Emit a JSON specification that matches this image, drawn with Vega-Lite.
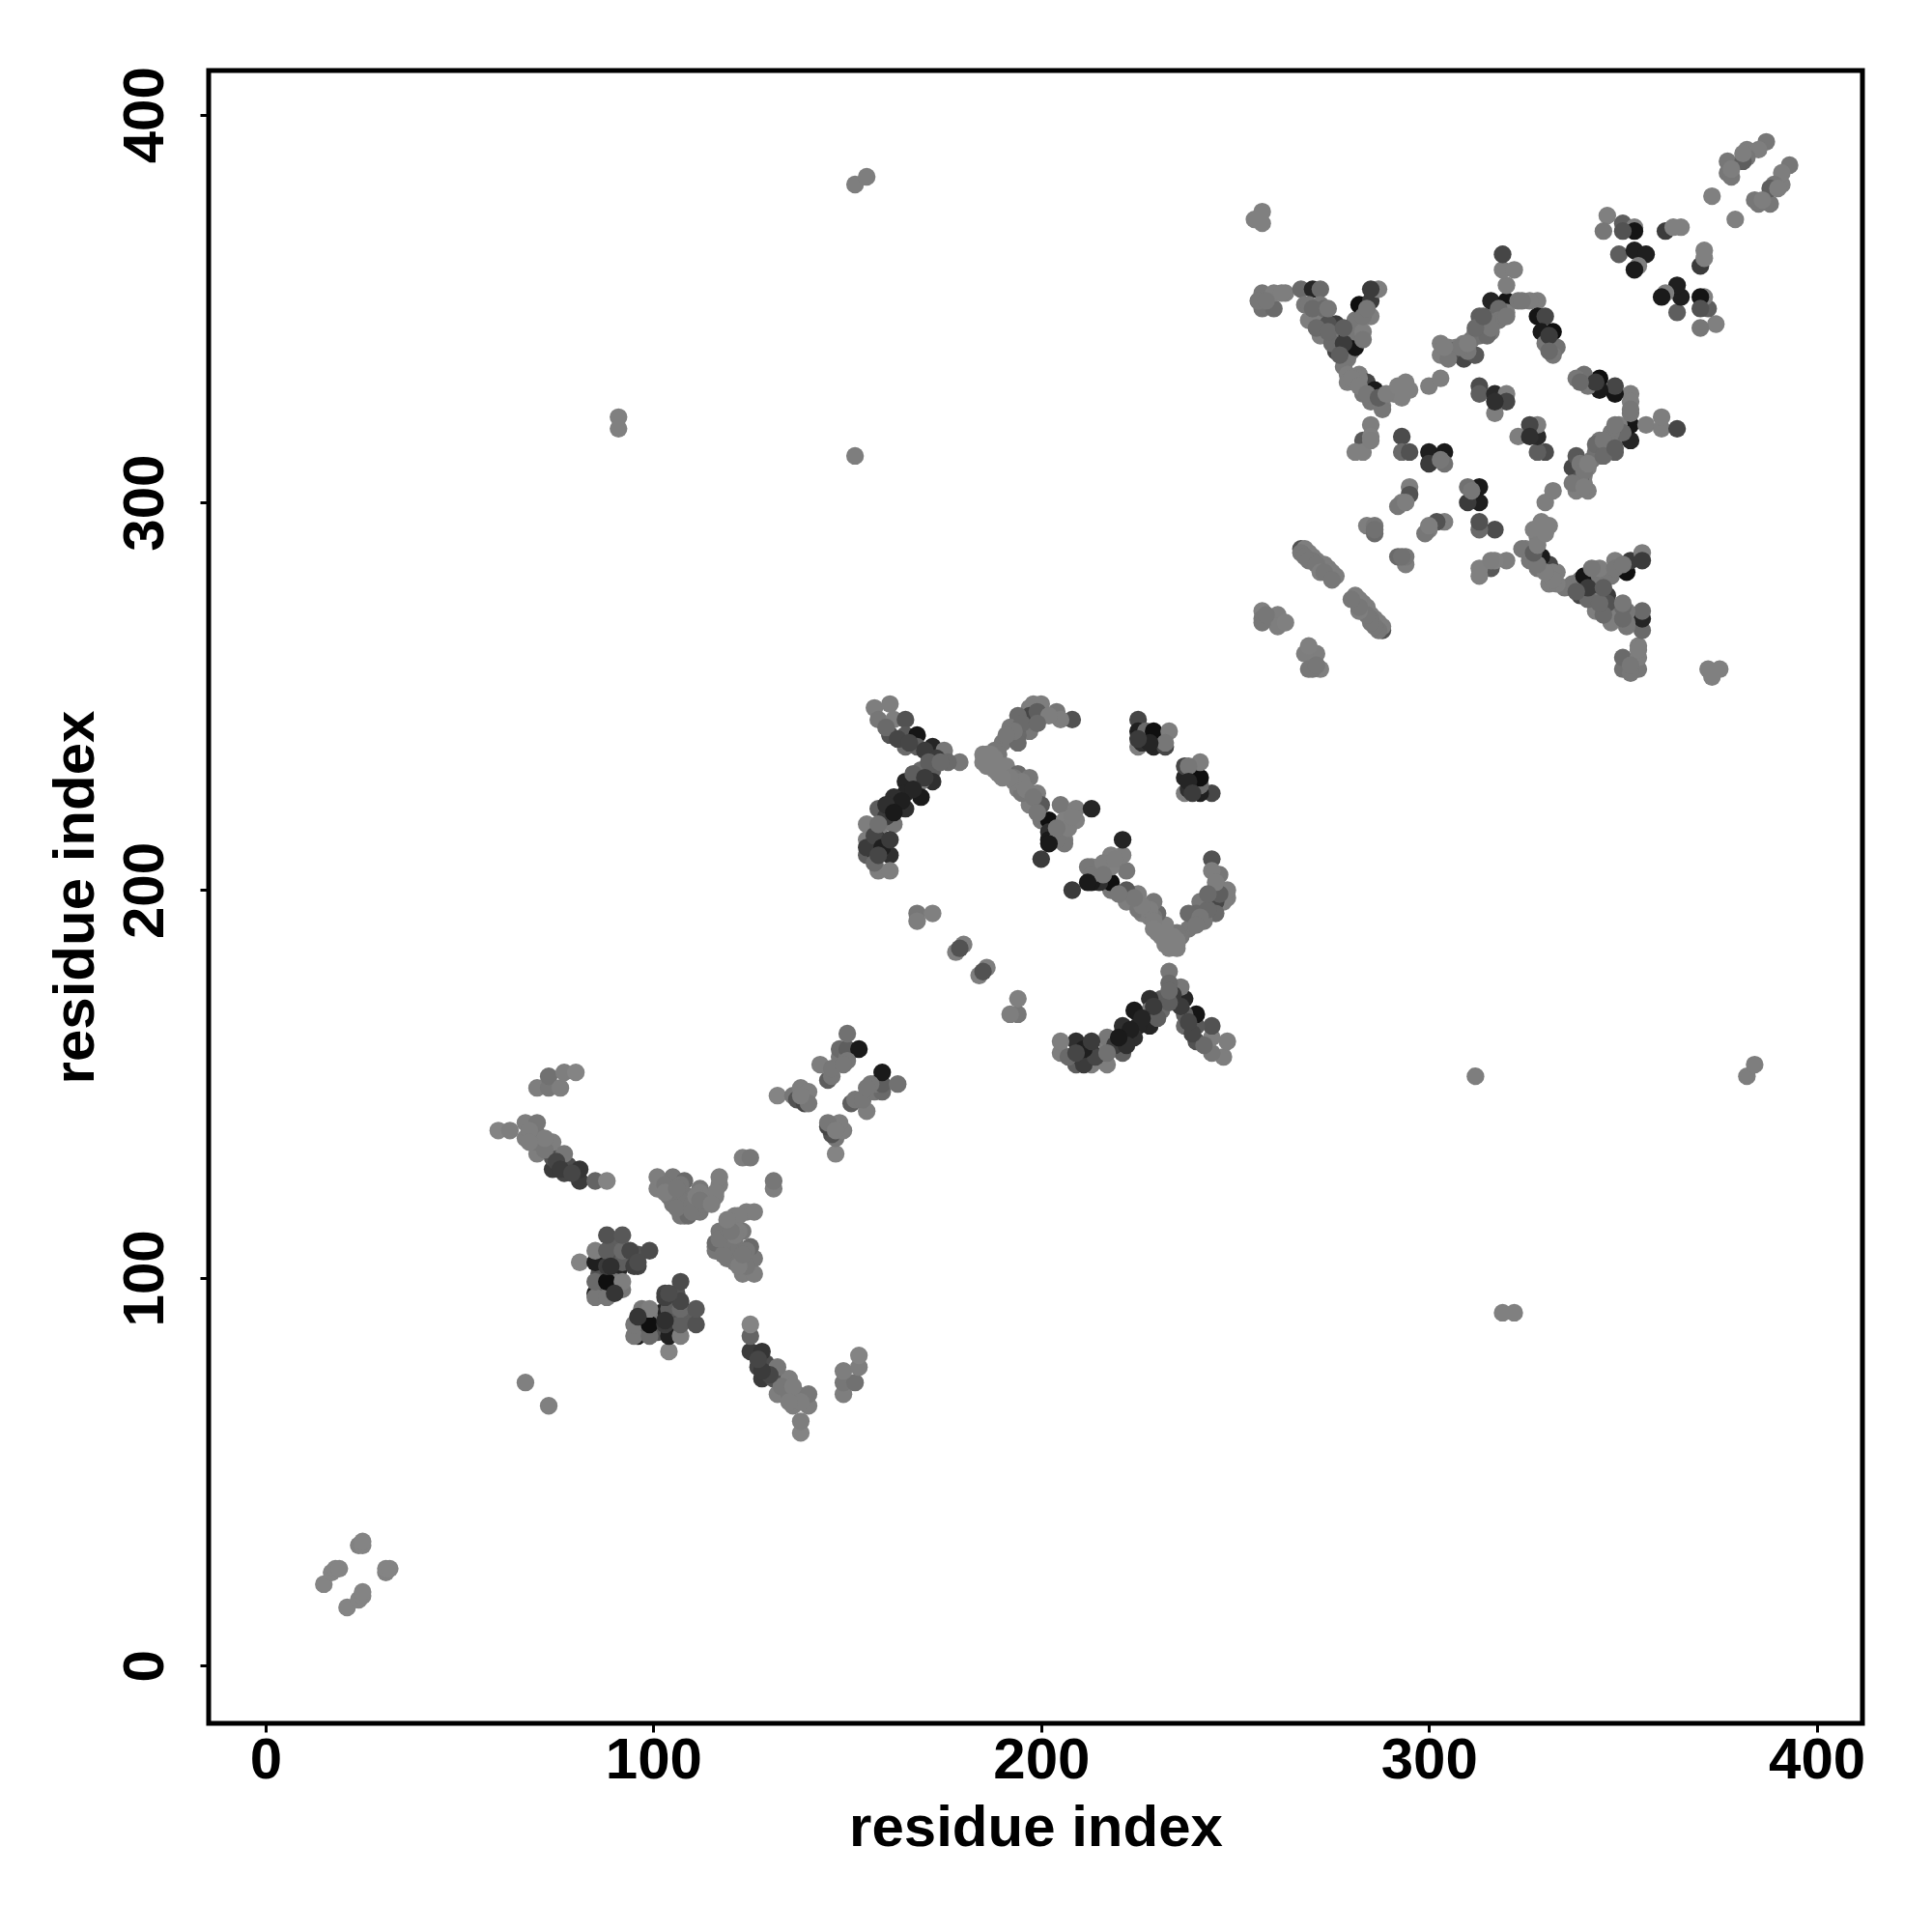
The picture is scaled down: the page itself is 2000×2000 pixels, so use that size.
{"$schema":"https://vega.github.io/schema/vega-lite/v6.json","width":1712,"height":1711,"autosize":"none","padding":{"left":216,"top":73,"right":72,"bottom":216},"background":"white",
"view":{"stroke":"#000000","strokeWidth":5,"fill":"white"},
"config":{"font":"Liberation Sans"},
"data":{"values":[
{"a":15,"b":21,"s":0},{"a":17,"b":24,"s":0},{"a":18,"b":25,"s":0},{"a":19,"b":25,"s":0},{"a":24,"b":31,"s":0.02},{"a":25,"b":31,"s":0},{"a":25,"b":32,"s":0},{"a":67,"b":73,"s":0.03},
{"a":60,"b":138,"s":0},{"a":63,"b":138,"s":0.05},{"a":67,"b":136,"s":0.05},{"a":67,"b":140,"s":0.05},{"a":70,"b":132,"s":0.05},{"a":70,"b":135,"s":0.1},{"a":70,"b":137,"s":0.1},{"a":70,"b":140,"s":0.1},{"a":74,"b":128,"s":0.6},{"a":74,"b":131,"s":0.4},{"a":74,"b":135,"s":0.05},{"a":77,"b":127,"s":0.5},{"a":78,"b":129,"s":0.45},{"a":77,"b":132,"s":0.1},{"a":81,"b":125,"s":0.6},{"a":81,"b":128,"s":0.65},{"a":85,"b":125,"s":0.25},{"a":88,"b":125,"s":0},{"a":72,"b":133,"s":0.1},{"a":75,"b":130,"s":0.5},{"a":76,"b":128,"s":0.6},{"a":79,"b":127,"s":0.5},{"a":72,"b":136,"s":0.05},{"a":68,"b":138,"s":0.05},{"a":68,"b":135,"s":0.05},
{"a":70,"b":149,"s":0.05},{"a":73,"b":149,"s":0.1},{"a":73,"b":152,"s":0.15},{"a":76,"b":149,"s":0.05},{"a":77,"b":153,"s":0.05},{"a":80,"b":153,"s":0},
{"a":81,"b":104,"s":0},{"a":85,"b":96,"s":0.85},{"a":87,"b":98,"s":0.7},{"a":87,"b":101,"s":0.3},{"a":90,"b":101,"s":0.5},{"a":90,"b":105,"s":0.4},{"a":92,"b":97,"s":0.1},{"a":86,"b":101,"s":0.4},{"a":87,"b":105,"s":0.3},{"a":90,"b":109,"s":0.3},{"a":94,"b":104,"s":0.5},{"a":96,"b":106,"s":0.4},{"a":91,"b":102,"s":0.8},{"a":87,"b":97,"s":0.6},{"a":86,"b":98,"s":0.3},{"a":90,"b":99,"s":0.1},{"a":85,"b":95,"s":0.1},{"a":85,"b":99,"s":0.2},{"a":85,"b":104,"s":0.85},{"a":85,"b":107,"s":0.05},{"a":88,"b":95,"s":0.1},{"a":88,"b":99,"s":1},{"a":88,"b":103,"s":0.6},{"a":88,"b":107,"s":0.3},{"a":88,"b":111,"s":0.4},{"a":92,"b":99,"s":0.05},{"a":92,"b":104,"s":0.3},{"a":92,"b":107,"s":0.2},{"a":92,"b":111,"s":0.35},{"a":90,"b":96,"s":0.65},{"a":94,"b":107,"s":0.5},{"a":96,"b":103,"s":0.5},{"a":95,"b":103,"s":0.55},{"a":99,"b":107,"s":0.45},{"a":89,"b":103,"s":0.7},{"a":96,"b":104,"s":0.45},
{"a":101,"b":123,"s":0.05},{"a":101,"b":126,"s":0.05},{"a":105,"b":119,"s":0.1},{"a":105,"b":122,"s":0.1},{"a":105,"b":126,"s":0.1},{"a":108,"b":116,"s":0.1},{"a":108,"b":125,"s":0.2},{"a":109,"b":121,"s":0.1},{"a":107,"b":116,"s":0.1},{"a":111,"b":118,"s":0.05},{"a":112,"b":117,"s":0.1},{"a":112,"b":123,"s":0.1},{"a":114,"b":121,"s":0.15},{"a":116,"b":121,"s":0.05},{"a":117,"b":124,"s":0.05},{"a":117,"b":126,"s":0.05},{"a":116,"b":122,"s":0.05},{"a":109,"b":116,"s":0.2},{"a":112,"b":122,"s":0.05},{"a":107,"b":120,"s":0.1},{"a":103,"b":124,"s":0.1},{"a":104,"b":121,"s":0.1},{"a":106,"b":118,"s":0.1},{"a":107,"b":124,"s":0.1},{"a":110,"b":119,"s":0.1},{"a":110,"b":117,"s":0.1},{"a":111,"b":121,"s":0.05},{"a":113,"b":119,"s":0.1},{"a":103,"b":122,"s":0.05},{"a":106,"b":123,"s":0.1},{"a":112,"b":120,"s":0.1},{"a":115,"b":119,"s":0.05},
{"a":123,"b":131,"s":0.05},{"a":125,"b":131,"s":0.1},
{"a":132,"b":147,"s":0},{"a":136,"b":147,"s":0.1},{"a":137,"b":146,"s":0.4},{"a":138,"b":149,"s":0.05},{"a":139,"b":145,"s":0.5},{"a":140,"b":148,"s":0.05},{"a":140,"b":145,"s":0.1},{"a":138,"b":147,"s":0.05},{"a":143,"b":155,"s":0.05},{"a":145,"b":151,"s":0.3},{"a":146,"b":152,"s":0.1},{"a":146,"b":154,"s":0.1},{"a":148,"b":157,"s":0.1},{"a":148,"b":159,"s":0.2},{"a":150,"b":157,"s":0.1},{"a":150,"b":159,"s":0.3},{"a":150,"b":163,"s":0.15},{"a":153,"b":159,"s":0.9},{"a":150,"b":156,"s":0.1},{"a":149,"b":155,"s":0.1},
{"a":157,"b":247,"s":0.05},{"a":161,"b":248,"s":0.05},{"a":158,"b":244,"s":0.1},{"a":162,"b":244,"s":0.05},{"a":165,"b":244,"s":0.4},{"a":161,"b":240,"s":0.4},{"a":165,"b":240,"s":0.35},{"a":168,"b":240,"s":0.95},{"a":165,"b":237,"s":0.2},{"a":168,"b":237,"s":0.3},{"a":172,"b":237,"s":0.8},{"a":175,"b":236,"s":0.1},{"a":179,"b":233,"s":0.1},{"a":176,"b":233,"s":0.2},{"a":172,"b":231,"s":0.3},{"a":169,"b":231,"s":0.2},{"a":172,"b":228,"s":0.7},{"a":169,"b":228,"s":0.05},{"a":165,"b":228,"s":0.8},{"a":165,"b":225,"s":0.8},{"a":169,"b":224,"s":0.9},{"a":162,"b":224,"s":0.7},{"a":162,"b":221,"s":0.95},{"a":165,"b":221,"s":0.7},{"a":158,"b":221,"s":0.3},{"a":155,"b":217,"s":0.05},{"a":159,"b":217,"s":0.05},{"a":162,"b":217,"s":0.1},{"a":155,"b":213,"s":0.05},{"a":158,"b":213,"s":0.7},{"a":155,"b":209,"s":0.3},{"a":157,"b":210,"s":0.8},{"a":161,"b":209,"s":0.7},{"a":158,"b":205,"s":0.05},{"a":161,"b":205,"s":0.05},{"a":155,"b":211,"s":0.6},{"a":160,"b":242,"s":0.2},{"a":163,"b":239,"s":0.5},{"a":166,"b":238,"s":0.5},{"a":170,"b":236,"s":0.6},{"a":173,"b":234,"s":0.6},{"a":171,"b":233,"s":0.3},{"a":167,"b":230,"s":0.3},{"a":170,"b":229,"s":0.6},{"a":167,"b":226,"s":0.8},{"a":164,"b":223,"s":0.85},{"a":160,"b":219,"s":0.6},{"a":160,"b":222,"s":0.7},{"a":157,"b":214,"s":0.5},{"a":159,"b":211,"s":0.85},{"a":157,"b":207,"s":0.2},{"a":174,"b":233,"s":0.2},
{"a":158,"b":209,"s":0.5},{"a":161,"b":213,"s":0.6},{"a":158,"b":217,"s":0.15},{"a":162,"b":220,"s":0.9},
{"a":198,"b":248,"s":0.05},{"a":200,"b":248,"s":0.05},{"a":197,"b":247,"s":0.05},{"a":204,"b":246,"s":0.1},{"a":208,"b":244,"s":0.4},{"a":205,"b":244,"s":0.05},{"a":200,"b":245,"s":0.45},{"a":197,"b":245,"s":0.5},{"a":194,"b":245,"s":0.2},{"a":192,"b":242,"s":0.1},{"a":197,"b":241,"s":0.1},{"a":194,"b":240,"s":0.2},{"a":190,"b":238,"s":0.1},{"a":194,"b":238,"s":0.2},{"a":188,"b":236,"s":0.1},{"a":186,"b":233,"s":0.05},{"a":195,"b":243,"s":0.2},{"a":199,"b":246,"s":0.3},{"a":202,"b":245,"s":0.05},{"a":193,"b":241,"s":0.1},{"a":199,"b":243,"s":0.2},{"a":191,"b":240,"s":0.1},{"a":189,"b":235,"s":0.1},
{"a":185,"b":233,"s":0.03},{"a":185,"b":235,"s":0.03},{"a":188,"b":231,"s":0.03},{"a":188,"b":234,"s":0.03},{"a":191,"b":230,"s":0.03},{"a":191,"b":232,"s":0.03},{"a":194,"b":230,"s":0.2},{"a":197,"b":229,"s":0.1},{"a":194,"b":226,"s":0.05},{"a":197,"b":225,"s":0.05},{"a":199,"b":225,"s":0.05},{"a":197,"b":222,"s":0.05},{"a":200,"b":222,"s":0.35},{"a":200,"b":218,"s":0.1},{"a":202,"b":218,"s":1},{"a":205,"b":222,"s":0.1},{"a":209,"b":221,"s":0.05},{"a":213,"b":221,"s":0.8},{"a":206,"b":218,"s":0.03},{"a":209,"b":218,"s":0.03},{"a":202,"b":215,"s":0.7},{"a":202,"b":213,"s":0.9},{"a":206,"b":213,"s":0.05},{"a":200,"b":208,"s":0.6},{"a":206,"b":212,"s":0.1},{"a":204,"b":213,"s":0.1},{"a":202,"b":212,"s":0.9},{"a":195,"b":225,"s":0.1},{"a":193,"b":229,"s":0.1},{"a":189,"b":230,"s":0.03},{"a":186,"b":232,"s":0.03},{"a":187,"b":235,"s":0.03},{"a":186,"b":235,"s":0.03},{"a":187,"b":232,"s":0.03},{"a":190,"b":231,"s":0.03},{"a":193,"b":228,"s":0.05},{"a":195,"b":228,"s":0.05},{"a":196,"b":226,"s":0.05},{"a":198,"b":224,"s":0.1},{"a":199,"b":220,"s":0.1},{"a":192,"b":229,"s":0.05},{"a":190,"b":229,"s":0.03},{"a":207,"b":216,"s":0.05},{"a":208,"b":219,"s":0.05},{"a":204,"b":216,"s":0.1},
{"a":168,"b":194,"s":0.1},{"a":172,"b":194,"s":0.03},{"a":168,"b":192,"s":0.05},{"a":178,"b":184,"s":0.05},{"a":180,"b":186,"s":0.05},{"a":179,"b":185,"s":0.4},
{"a":225,"b":244,"s":0.5},{"a":225,"b":241,"s":0.85},{"a":225,"b":237,"s":0.05},{"a":227,"b":241,"s":0.2},{"a":229,"b":241,"s":1},{"a":233,"b":241,"s":0.05},{"a":229,"b":237,"s":0.8},{"a":232,"b":237,"s":0.5},{"a":232,"b":238,"s":0.1},{"a":226,"b":238,"s":0.7},{"a":228,"b":238,"s":0.8},{"a":225,"b":239,"s":0.6},
{"a":257,"b":354,"s":0.1},{"a":257,"b":350,"s":0.15},{"a":260,"b":350,"s":0.2},{"a":260,"b":354,"s":0.05},{"a":263,"b":354,"s":0.05},{"a":262,"b":354,"s":0.05},{"a":256,"b":352,"s":0.1},{"a":258,"b":352,"s":0.1},
{"a":267,"b":355,"s":0.2},{"a":270,"b":355,"s":0.8},{"a":272,"b":355,"s":0.2},{"a":268,"b":351,"s":0.1},{"a":269,"b":347,"s":0.05},{"a":269,"b":351,"s":0.1},{"a":272,"b":343,"s":0.05},{"a":272,"b":347,"s":0.05},{"a":272,"b":351,"s":0.1},{"a":273,"b":350,"s":0.2},{"a":276,"b":339,"s":0.5},{"a":276,"b":346,"s":0.6},{"a":276,"b":343,"s":0.1},{"a":279,"b":343,"s":1},{"a":279,"b":337,"s":0.1},{"a":280,"b":339,"s":0.1},{"a":281,"b":340,"s":0.95},{"a":281,"b":344,"s":0.1},{"a":281,"b":347,"s":0.1},{"a":282,"b":351,"s":1},{"a":283,"b":344,"s":0.05},{"a":285,"b":348,"s":0.05},{"a":285,"b":352,"s":0.6},{"a":287,"b":355,"s":0.05},{"a":285,"b":355,"s":0.6},{"a":270,"b":350,"s":0.2},{"a":274,"b":346,"s":0.4},{"a":275,"b":341,"s":0.2},{"a":278,"b":341,"s":0.6},{"a":278,"b":335,"s":0.1},{"a":277,"b":338,"s":0.3},{"a":283,"b":348,"s":0.1},{"a":284,"b":350,"s":0.1},{"a":271,"b":345,"s":0.2},{"a":274,"b":344,"s":0.2},{"a":278,"b":345,"s":0.3},{"a":283,"b":342,"s":0.1},{"a":274,"b":350,"s":0.1},
{"a":279,"b":333,"s":0.05},{"a":282,"b":333,"s":0.05},{"a":279,"b":331,"s":0.05},{"a":284,"b":331,"s":0.5},{"a":286,"b":329,"s":0.9},{"a":283,"b":328,"s":0.1},{"a":285,"b":326,"s":0.1},{"a":288,"b":325,"s":0.05},{"a":291,"b":328,"s":0.05},{"a":294,"b":331,"s":0.03},{"a":293,"b":328,"s":0.03},{"a":300,"b":330,"s":0.05},{"a":303,"b":332,"s":0.05},{"a":303,"b":341,"s":0.05},{"a":303,"b":338,"s":0.05},{"a":306,"b":338,"s":0.1},{"a":309,"b":337,"s":0.5},{"a":309,"b":341,"s":0.05},{"a":312,"b":338,"s":0.35},{"a":312,"b":344,"s":0.1},{"a":313,"b":348,"s":0.3},{"a":316,"b":344,"s":0.1},{"a":316,"b":348,"s":0.1},{"a":316,"b":352,"s":0.8},{"a":320,"b":352,"s":0.95},{"a":320,"b":349,"s":0.05},{"a":320,"b":356,"s":0.05},{"a":319,"b":360,"s":0.05},{"a":322,"b":360,"s":0.05},{"a":323,"b":352,"s":0.1},{"a":328,"b":352,"s":0.05},{"a":328,"b":348,"s":0.95},{"a":330,"b":348,"s":0.5},{"a":332,"b":344,"s":1},{"a":329,"b":344,"s":0.9},{"a":330,"b":341,"s":0.1},{"a":333,"b":340,"s":0.15},{"a":332,"b":338,"s":0.1},{"a":319,"b":364,"s":0.5},{"a":288,"b":324,"s":0.1},{"a":293,"b":327,"s":0.03},{"a":295,"b":329,"s":0.03},{"a":282,"b":332,"s":0.05},{"a":280,"b":332,"s":0.05},{"a":282,"b":330,"s":0.05},{"a":284,"b":328,"s":0.1},{"a":287,"b":327,"s":0.3},{"a":289,"b":328,"s":0.05},{"a":292,"b":330,"s":0.03},{"a":305,"b":340,"s":0.05},{"a":307,"b":340,"s":0.05},{"a":310,"b":339,"s":0.1},{"a":311,"b":342,"s":0.1},{"a":314,"b":346,"s":0.1},{"a":318,"b":350,"s":0.2},{"a":318,"b":347,"s":0.1},{"a":326,"b":352,"s":0.05},{"a":331,"b":343,"s":0.6},{"a":331,"b":339,"s":0.2},{"a":306,"b":339,"s":0.4},{"a":308,"b":340,"s":0.1},{"a":313,"b":343,"s":0.15},{"a":315,"b":347,"s":0.1},{"a":315,"b":343,"s":0.2},
{"a":305,"b":337,"s":0.1},{"a":304,"b":340,"s":0.05},{"a":310,"b":341,"s":0.05},{"a":316,"b":345,"s":0.1},{"a":312,"b":345,"s":0.2},{"a":314,"b":348,"s":0.3},{"a":320,"b":348,"s":0.1},{"a":324,"b":352,"s":0.1},
{"a":313,"b":330,"s":0.45},{"a":313,"b":328,"s":0.3},{"a":317,"b":328,"s":0.75},{"a":320,"b":328,"s":0.05},{"a":320,"b":326,"s":0.5},{"a":317,"b":323,"s":0.05},{"a":317,"b":326,"s":0.7},
{"a":285,"b":320,"s":0.05},{"a":283,"b":316,"s":0.35},{"a":285,"b":317,"s":0.03},{"a":281,"b":313,"s":0.03},{"a":283,"b":313,"s":0.03},{"a":285,"b":316,"s":0.05},
{"a":293,"b":317,"s":0.45},{"a":293,"b":313,"s":0.2},{"a":295,"b":313,"s":0.4},{"a":300,"b":313,"s":0.85},{"a":304,"b":313,"s":0.9},{"a":300,"b":310,"s":0.6},{"a":304,"b":310,"s":0.15},{"a":303,"b":311,"s":0.1},
{"a":295,"b":304,"s":0.05},{"a":295,"b":302,"s":0.4},{"a":293,"b":300,"s":0.05},{"a":292,"b":299,"s":0.1},{"a":294,"b":300,"s":0.05},{"a":284,"b":294,"s":0.05},{"a":286,"b":294,"s":0.1},{"a":286,"b":292,"s":0.2},{"a":286,"b":293,"s":0.15},
{"a":267,"b":288,"s":0.4},{"a":268,"b":287,"s":0.3},{"a":268,"b":288,"s":0.05},{"a":269,"b":287,"s":0.05},{"a":270,"b":286,"s":0.05},{"a":271,"b":285,"s":0.05},{"a":272,"b":284,"s":0.05},{"a":273,"b":284,"s":0.05},{"a":274,"b":283,"s":0.05},{"a":275,"b":282,"s":0.05},{"a":276,"b":281,"s":0.05},{"a":274,"b":282,"s":0.05},{"a":270,"b":285,"s":0.1},{"a":267,"b":287,"s":0.1},{"a":268,"b":286,"s":0.1},{"a":269,"b":285,"s":0.1},{"a":271,"b":284,"s":0.1},{"a":272,"b":282,"s":0.05},{"a":273,"b":282,"s":0.1},{"a":275,"b":280,"s":0.1},
{"a":257,"b":272,"s":0.03},{"a":257,"b":270,"s":0.1},{"a":259,"b":270,"s":0.6},{"a":260,"b":270,"s":0.05},{"a":261,"b":271,"s":0.05},{"a":261,"b":268,"s":0.05},{"a":263,"b":269,"s":0.03},{"a":257,"b":269,"s":0.1},{"a":258,"b":271,"s":0.1},
{"a":255,"b":373,"s":0.03},{"a":257,"b":372,"s":0.03},{"a":257,"b":375,"s":0.03},
{"a":91,"b":319,"s":0.03},{"a":91,"b":322,"s":0.03},{"a":152,"b":312,"s":0.05},{"a":152,"b":382,"s":0.05},{"a":155,"b":384,"s":0.05},
{"a":387,"b":393,"s":0.1},{"a":382,"b":391,"s":0.05},{"a":385,"b":391,"s":0.05},{"a":382,"b":389,"s":0.1},{"a":377,"b":388,"s":0.1},{"a":381,"b":388,"s":0.3},{"a":377,"b":385,"s":0.1},{"a":378,"b":384,"s":0.1},{"a":378,"b":386,"s":0.05},{"a":381,"b":390,"s":0.05},{"a":373,"b":379,"s":0.03},
{"a":346,"b":374,"s":0.03},{"a":345,"b":370,"s":0.1},{"a":350,"b":372,"s":0.3},{"a":353,"b":371,"s":0.03},{"a":353,"b":370,"s":0.95},{"a":350,"b":370,"s":0.4},{"a":349,"b":364,"s":0.3},{"a":353,"b":365,"s":0.85},{"a":356,"b":364,"s":0.85},{"a":354,"b":361,"s":0.05},{"a":353,"b":360,"s":0.9},{"a":361,"b":370,"s":0.6},{"a":363,"b":371,"s":0.03},{"a":365,"b":371,"s":0.03}
]},
"encoding":{"color":{"field":"s","type":"quantitative","scale":{"domain":[0,1],"range":["#848484","#0f0f0f"]},"legend":null},"size":{"value":336},"opacity":{"value":1}},
"layer":[
{"mark":{"type":"point","shape":"circle","filled":true,"stroke":null},"encoding":{
"x":{"field":"a","type":"quantitative","scale":{"domain":[-14.7,411.8],"nice":false,"zero":false},"axis":{"title":"residue index","values":[0,100,200,300,400],"grid":false,"domain":false,"tickColor":"#000000","tickWidth":3,"tickSize":9,"labelFont":"Liberation Sans","labelFontWeight":"bold","labelFontSize":60,"labelColor":"#000000","labelPadding":0,"labelOverlap":false,"labelFlush":false,"titleFont":"Liberation Sans","titleFontWeight":"bold","titleFontSize":60,"titleColor":"#000000","titlePadding":11}},
"y":{"field":"b","type":"quantitative","scale":{"domain":[-14.9,411.4],"nice":false,"zero":false},"axis":{"title":"residue index","values":[0,100,200,300,400],"grid":false,"domain":false,"tickColor":"#000000","tickWidth":3,"tickSize":9,"labelFont":"Liberation Sans","labelFontWeight":"bold","labelFontSize":60,"labelColor":"#000000","labelAngle":-90,"labelPadding":26,"labelOverlap":false,"labelFlush":false,"titleFont":"Liberation Sans","titleFontWeight":"bold","titleFontSize":60,"titleColor":"#000000","titlePadding":11}}}},
{"mark":{"type":"point","shape":"circle","filled":true,"stroke":null},"encoding":{
"x":{"field":"b","type":"quantitative"},
"y":{"field":"a","type":"quantitative"}}}
]}
